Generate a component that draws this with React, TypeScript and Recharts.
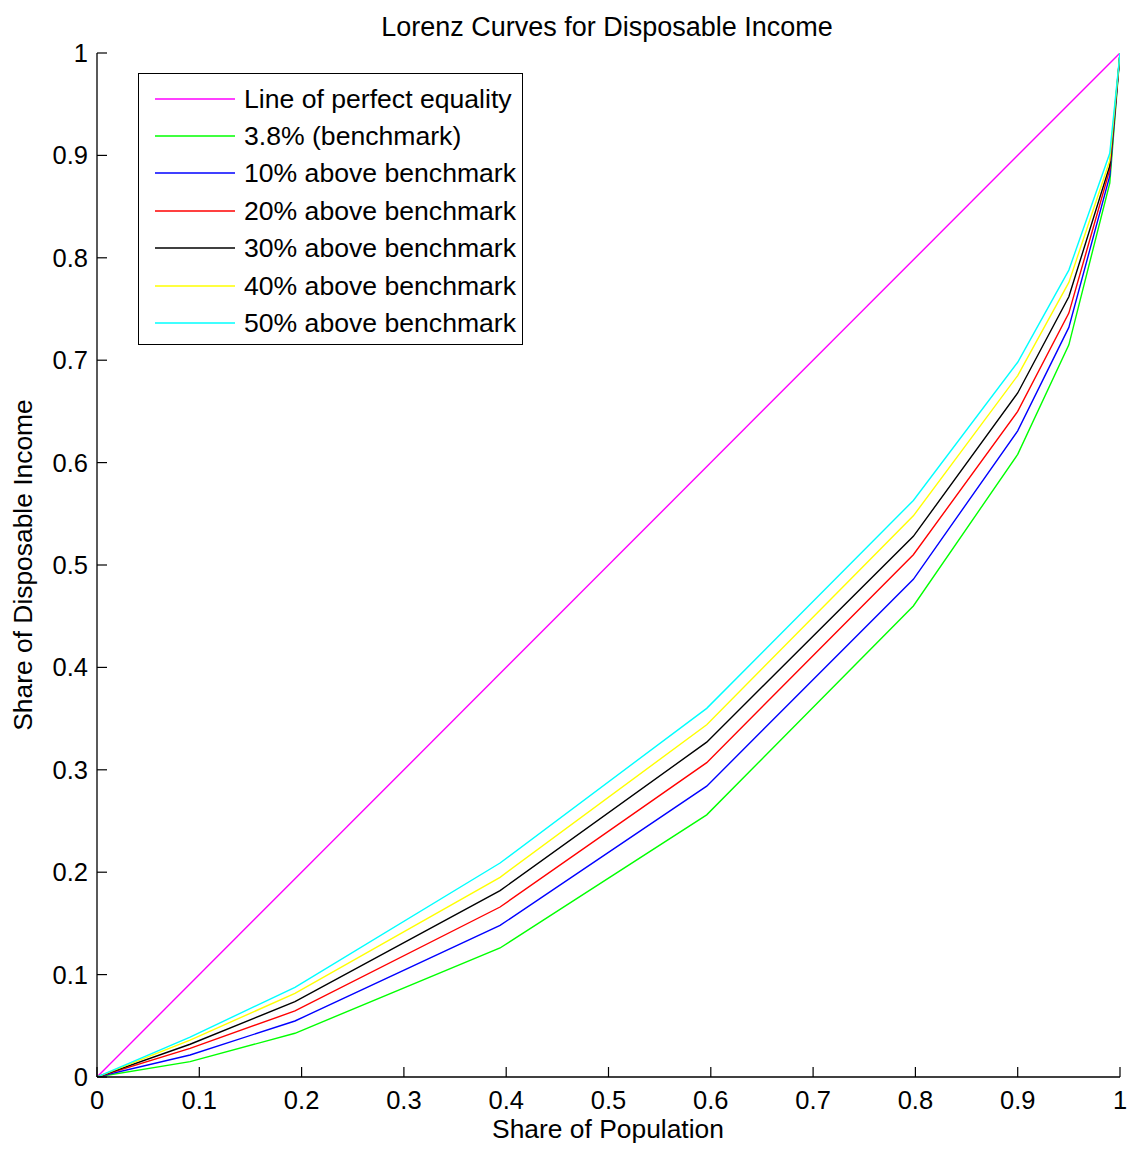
import React from 'react';
import { LineChart, Line, XAxis, YAxis, Legend } from 'recharts';

// Cumulative share of population (x) at which each Lorenz curve is evaluated
const populationShare = [0, 0.091, 0.1935, 0.394, 0.596, 0.798, 0.9, 0.95, 0.99, 1];

// Cumulative share of disposable income for each scenario
const benchmark = [0, 0.015, 0.0427, 0.126, 0.256, 0.46, 0.608, 0.715, 0.873, 1];
const above10 = [0, 0.0215, 0.0547, 0.148, 0.284, 0.486, 0.631, 0.732, 0.88, 1];
const above20 = [0, 0.028, 0.0645, 0.166, 0.307, 0.51, 0.65, 0.746, 0.886, 1];
const above30 = [0, 0.032, 0.0735, 0.182, 0.327, 0.528, 0.668, 0.762, 0.89, 1];
const above40 = [0, 0.036, 0.0817, 0.195, 0.344, 0.548, 0.685, 0.776, 0.895, 1];
const above50 = [0, 0.039, 0.0876, 0.209, 0.36, 0.563, 0.698, 0.788, 0.902, 1];

// Line of perfect equality
const equalityX = [0, 1];
const equalityY = [0, 1];

const xTicks = [0, 0.1, 0.2, 0.3, 0.4, 0.5, 0.6, 0.7, 0.8, 0.9, 1];
const yTicks = [0, 0.1, 0.2, 0.3, 0.4, 0.5, 0.6, 0.7, 0.8, 0.9, 1];

const seriesNames = [
  'Line of perfect equality',
  '3.8% (benchmark)',
  '10% above benchmark',
  '20% above benchmark',
  '30% above benchmark',
  '40% above benchmark',
  '50% above benchmark',
];
const seriesColors = ['#FF00FF', '#00FF00', '#0000FF', '#FF0000', '#000000', '#FFFF00', '#00FFFF'];

const toPoints = (xs: number[], ys: number[]) => xs.map((x, i) => ({ x, y: ys[i] }));

const seriesData = [
  toPoints(equalityX, equalityY),
  toPoints(populationShare, benchmark),
  toPoints(populationShare, above10),
  toPoints(populationShare, above20),
  toPoints(populationShare, above30),
  toPoints(populationShare, above40),
  toPoints(populationShare, above50),
];

const FONT = '"Liberation Sans", Arial, Helvetica, sans-serif';
const W = 1136;
const H = 1150;
const TICK_LEN = 10;
const X_TICK_MARGIN = 14;
const Y_TICK_MARGIN = 9;
const TICK_FONT = 25.5;

const fmt = (v: number) => String(Number(v.toFixed(2)));

const BottomTick = (props: any) => {
  const { x, y, payload } = props;
  const base = y - X_TICK_MARGIN;
  return (
    <g>
      <line x1={x} y1={base} x2={x} y2={base - TICK_LEN} stroke="#000" strokeWidth={1.2} />
      <text x={x} y={y} dy="0.71em" textAnchor="middle" fill="#000" fontSize={TICK_FONT} fontFamily={FONT}>
        {fmt(payload.value)}
      </text>
    </g>
  );
};

const LeftTick = (props: any) => {
  const { x, y, payload } = props;
  const base = x + Y_TICK_MARGIN;
  return (
    <g>
      <line x1={base} y1={y} x2={base + TICK_LEN} y2={y} stroke="#000" strokeWidth={1.2} />
      <text x={x} y={y} dy="0.355em" textAnchor="end" fill="#000" fontSize={TICK_FONT} fontFamily={FONT}>
        {fmt(payload.value)}
      </text>
    </g>
  );
};

const TopTick = (props: any) => {
  const { x, y } = props;
  return <line x1={x} y1={y} x2={x} y2={y + TICK_LEN} stroke="#000" strokeWidth={1.2} />;
};

const RightTick = (props: any) => {
  const { x, y } = props;
  return <line x1={x} y1={y} x2={x - TICK_LEN} y2={y} stroke="#000" strokeWidth={1.2} />;
};

const LegendBox = () => (
  <div
    style={{
      border: '1.5px solid #000',
      background: '#fff',
      width: 385,
      height: 272,
      boxSizing: 'border-box',
      paddingTop: 6,
      fontFamily: FONT,
      fontSize: 26.6,
      color: '#000',
    }}
  >
    {seriesNames.map((name, i) => (
      <div key={name} style={{ display: 'flex', alignItems: 'center', height: 37.4 }}>
        <svg width={80} height={6} style={{ marginLeft: 16, display: 'block' }}>
          <line x1={0} y1={3} x2={80} y2={3} stroke={seriesColors[i]} strokeWidth={1.3} />
        </svg>
        <div style={{ marginLeft: 9, whiteSpace: 'nowrap', lineHeight: '30px' }}>{name}</div>
      </div>
    ))}
  </div>
);

export default function App() {
  return (
    <div style={{ position: 'absolute', left: 0, top: 0, width: W, height: H, background: '#fff' }}>
      <LineChart width={W} height={H} margin={{ top: 53, right: 16, bottom: 0, left: 0 }}>
        <XAxis
          xAxisId="b"
          type="number"
          dataKey="x"
          orientation="bottom"
          domain={[0, 1]}
          ticks={xTicks}
          interval={0}
          height={73}
          tickSize={0}
          tickMargin={X_TICK_MARGIN}
          tickLine={false}
          axisLine={{ stroke: '#000', strokeWidth: 1.3 }}
          tick={BottomTick}
          allowDataOverflow
        />
        <XAxis
          xAxisId="t"
          type="number"
          dataKey="x"
          orientation="top"
          domain={[0, 1]}
          ticks={xTicks}
          interval={0}
          height={0}
          tickSize={0}
          tickMargin={0}
          tickLine={false}
          axisLine={{ stroke: '#000', strokeWidth: 1.3 }}
          tick={TopTick}
          allowDataOverflow
        />
        <YAxis
          yAxisId="l"
          type="number"
          orientation="left"
          domain={[0, 1]}
          ticks={yTicks}
          interval={0}
          width={97}
          tickSize={0}
          tickMargin={Y_TICK_MARGIN}
          tickLine={false}
          axisLine={{ stroke: '#000', strokeWidth: 1.3 }}
          tick={LeftTick}
          allowDataOverflow
        />
        <YAxis
          yAxisId="r"
          type="number"
          orientation="right"
          domain={[0, 1]}
          ticks={yTicks}
          interval={0}
          width={0}
          tickSize={0}
          tickMargin={0}
          tickLine={false}
          axisLine={{ stroke: '#000', strokeWidth: 1.3 }}
          tick={RightTick}
          allowDataOverflow
        />
        <Legend
          layout="vertical"
          align="center"
          verticalAlign="middle"
          content={() => <LegendBox />}
          wrapperStyle={{ left: 138, top: 73, width: 385, height: 272 }}
        />
        {seriesData.map((d, i) => (
          <Line
            key={seriesNames[i]}
            xAxisId="b"
            yAxisId="l"
            data={d}
            dataKey="y"
            name={seriesNames[i]}
            type="linear"
            stroke={seriesColors[i]}
            strokeWidth={1.4}
            dot={false}
            activeDot={false}
            isAnimationActive={false}
          />
        ))}
      </LineChart>
      <svg
        width={W}
        height={H}
        style={{ position: 'absolute', left: 0, top: 0, pointerEvents: 'none' }}
      >
        <text x={607} y={36} textAnchor="middle" fontSize={27} fontFamily={FONT} fill="#000">
          Lorenz Curves for Disposable Income
        </text>
        <text x={608} y={1138} textAnchor="middle" fontSize={26.4} fontFamily={FONT} fill="#000">
          Share of Population
        </text>
        <text
          x={32}
          y={565}
          textAnchor="middle"
          fontSize={26.4}
          fontFamily={FONT}
          fill="#000"
          transform="rotate(-90, 32, 565)"
        >
          Share of Disposable Income
        </text>
      </svg>
    </div>
  );
}
